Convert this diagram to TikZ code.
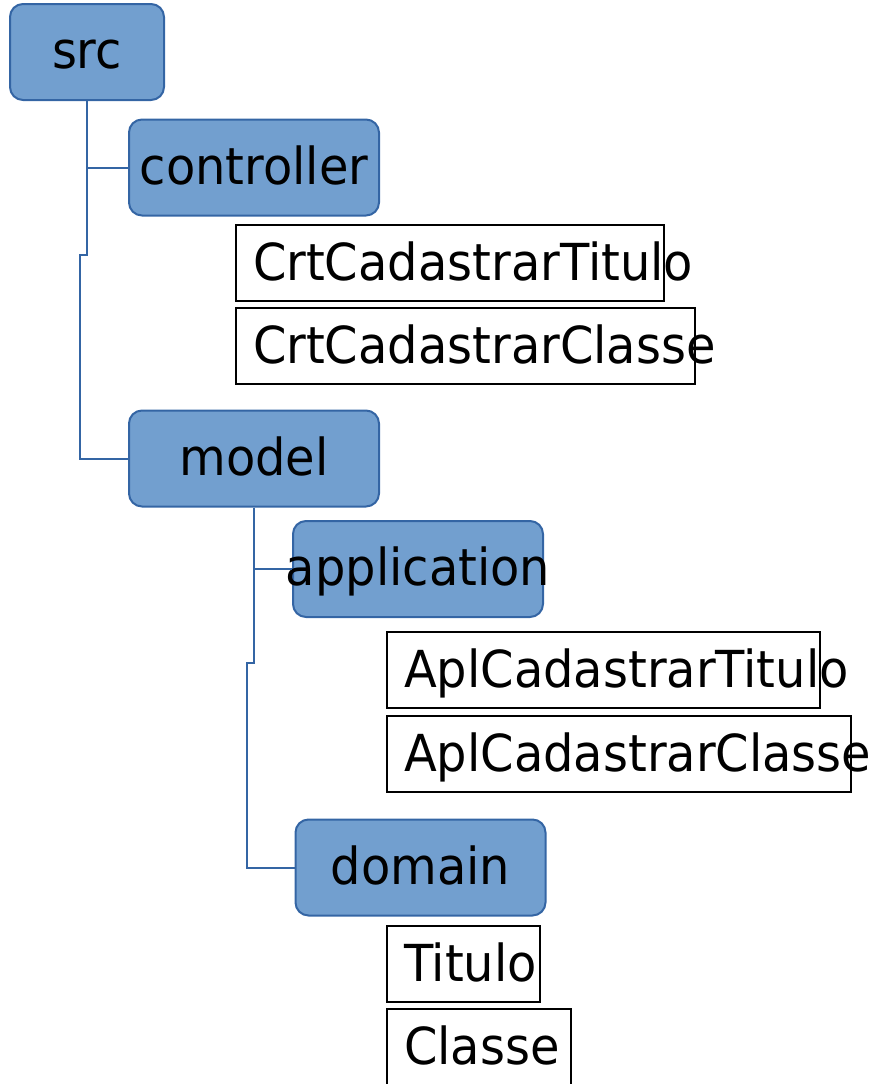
\documentclass[tikz,border=0pt]{standalone}
\usepackage{fontspec}
\setmainfont{DejaVu Sans}[FakeStretch=0.94]
\usepackage{tikz}

\definecolor{folderfill}{HTML}{729FCF}
\definecolor{folderline}{HTML}{3465A4}

\hyphenpenalty=10000

\begin{document}
\begin{tikzpicture}[x=1pt,y=-1pt,line width=2pt]
  \tikzstyle{folder}=[fill=folderfill, draw=folderline, rounded corners=13pt,
                      minimum width=250pt, minimum height=96pt, inner sep=0pt,
                      font=\fontsize{51}{60}\selectfont, text height=37pt, text depth=4pt]
  \tikzstyle{file}=[draw=black, anchor=west, minimum height=76pt, inner xsep=17pt,
                    inner ysep=0pt, align=left, font=\fontsize{51}{60}\selectfont,
                    text height=38pt, text depth=4pt]
  \tikzstyle{branch}=[draw=folderline]

  \useasboundingbox (0,0) rectangle (872,1084);

  % packages
  \node[folder, minimum width=154pt] (src) at (87,52)      {src};
  \node[folder] (controller)             at (254,167.5)    {controller};
  \node[folder] (model)                  at (254,458.5)    {model};
  \node[folder] (application)            at (418,569)      {\makebox[0pt]{application}};
  \node[folder] (domain)                 at (420.5,867.5)  {domain};

  % classes
  \node[file, text width=394pt] (crttitulo) at (235,263)  {CrtCadastrarTitulo};
  \node[file, text width=425pt] (crtclasse) at (235,346)  {CrtCadastrarClasse};
  \node[file, text width=399pt] (apltitulo) at (386,670)  {AplCadastrarTitulo};
  \node[file, text width=430pt] (aplclasse) at (386,754)  {AplCadastrarClasse};
  \node[file, text width=119pt] (titulo)    at (386,964)  {Titulo};
  \node[file, text width=150pt] (classe)    at (386,1047) {Classe};

  % tree lines
  \coordinate (srcjog)   at (80,255);
  \coordinate (modeljog) at (247,663);

  \draw[branch] (src.south) |- (controller.west);
  \draw[branch] (src.south) -- (src.south |- srcjog) -- (srcjog) |- (model.west);
  \draw[branch] (model.south) |- (application.west);
  \draw[branch] (model.south) -- (model.south |- modeljog) -- (modeljog) |- (domain.west);
\end{tikzpicture}
\end{document}
